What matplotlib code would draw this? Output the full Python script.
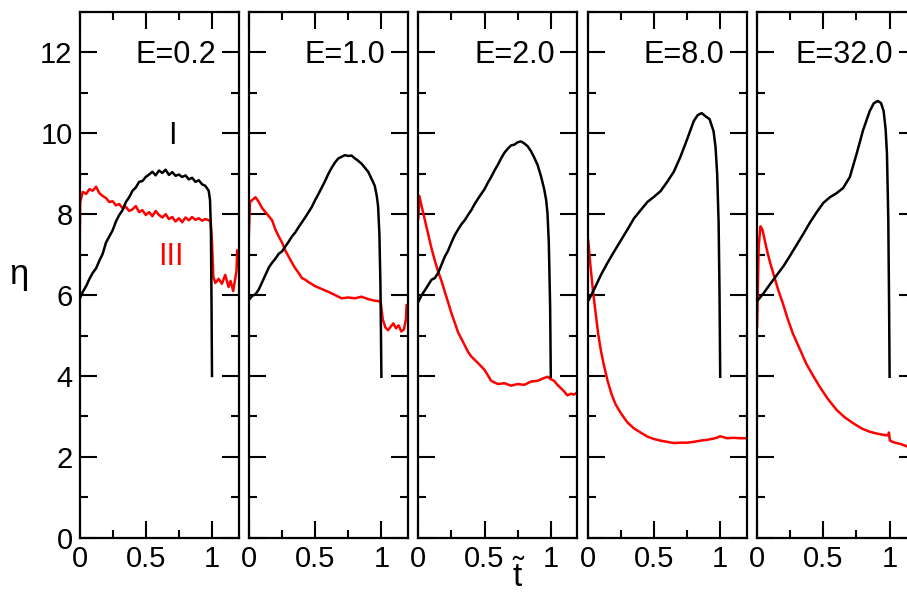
import matplotlib
matplotlib.use("Agg")
import matplotlib.pyplot as plt
from matplotlib.ticker import MultipleLocator

plt.rcParams['font.family'] = ['Liberation Sans', 'DejaVu Sans']
plt.rcParams['mathtext.fontset'] = 'custom'
plt.rcParams['mathtext.rm'] = 'Liberation Sans'

# ---------------- data ----------------
labels = ["E=0.2", "E=1.0", "E=2.0", "E=8.0", "E=32.0"]

# E=0.2
x_I_02 = [0, .025, .05, .075, .1, .125, .15, .175, .2, .225, .25, .275, .3, .325, .35, .375, .4, .425, .45, .475,
          .5, .525, .55, .575, .6, .625, .65, .675, .7, .725, .75, .775, .8, .825, .85, .875, .9, .925, .95, .975,
          .985, .992, .997, 1.0]
y_I_02 = [5.90, 6.08, 6.22, 6.40, 6.55, 6.66, 6.85, 7.02, 7.30, 7.45, 7.60, 7.82, 7.98, 8.10, 8.30, 8.42, 8.58, 8.66, 8.80, 8.82,
          8.92, 8.98, 9.05, 8.96, 9.08, 9.02, 9.10, 8.97, 9.04, 8.95, 8.98, 8.92, 8.96, 8.86, 8.90, 8.80, 8.84, 8.74, 8.70, 8.58,
          8.35, 7.6, 5.5, 4.0]
x_III_02 = [0, .005, .025, .05, .075, .1, .125, .15, .175, .2, .225, .25, .275, .3, .325, .35, .375, .4, .425, .45,
            .475, .5, .525, .55, .575, .6, .625, .65, .675, .7, .725, .75, .775, .8, .825, .85, .875, .9, .925, .95,
            .975, .99, 1.0, 1.01, 1.025, 1.05, 1.075, 1.1, 1.125, 1.14, 1.16, 1.175, 1.185, 1.19]
y_III_02 = [6.7, 8.3, 8.55, 8.50, 8.62, 8.58, 8.68, 8.52, 8.45, 8.40, 8.30, 8.32, 8.22, 8.25, 8.15, 8.18, 8.08, 8.12, 8.20, 8.05,
            8.10, 7.98, 8.05, 7.95, 8.08, 7.98, 7.92, 8.0, 7.88, 7.93, 7.82, 7.90, 7.80, 7.92, 7.85, 7.93, 7.86, 7.90, 7.84, 7.88,
            7.85, 7.82, 7.3, 6.45, 6.30, 6.40, 6.28, 6.50, 6.20, 6.35, 6.10, 6.40, 6.6, 7.1]

# E=1.0
x_I_10 = [0, .025, .05, .075, .1, .125, .15, .175, .2, .225, .25, .275, .3, .325, .35, .375, .4, .425, .45, .475,
          .5, .525, .55, .575, .6, .625, .65, .675, .7, .725, .75, .775, .8, .825, .85, .875, .9, .925, .95,
          .965, .975, .985, .993, 1.0]
y_I_10 = [5.88, 5.98, 6.02, 6.14, 6.32, 6.50, 6.68, 6.80, 6.90, 7.02, 7.08, 7.20, 7.32, 7.45, 7.55, 7.68, 7.80, 7.92, 8.05, 8.18,
          8.35, 8.50, 8.66, 8.82, 9.00, 9.15, 9.28, 9.38, 9.42, 9.46, 9.44, 9.45, 9.38, 9.32, 9.25, 9.15, 9.05, 8.88, 8.70,
          8.45, 8.20, 7.50, 6.2, 3.98]
x_III_10 = [0, .008, .025, .05, .075, .1, .125, .15, .175, .2, .225, .25, .275, .3, .325, .35, .375, .4, .425, .45,
            .5, .55, .6, .65, .7, .75, .8, .85, .9, .95, .98, .995, 1.01, 1.03, 1.05, 1.07, 1.09, 1.11, 1.13, 1.15,
            1.17, 1.185, 1.19]
y_III_10 = [7.52, 8.30, 8.35, 8.42, 8.30, 8.15, 8.05, 7.95, 7.85, 7.62, 7.45, 7.30, 7.10, 6.95, 6.80, 6.66, 6.55, 6.42, 6.38, 6.32,
            6.22, 6.15, 6.08, 6.00, 5.92, 5.94, 5.92, 5.96, 5.90, 5.86, 5.85, 5.82, 5.40, 5.20, 5.13, 5.22, 5.30, 5.18, 5.25, 5.10,
            5.15, 5.4, 5.75]

# E=2.0
x_I_20 = [0, .025, .05, .075, .1, .125, .15, .175, .2, .225, .25, .275, .3, .325, .35, .375, .4, .425, .45, .475,
          .5, .525, .55, .575, .6, .625, .65, .675, .7, .725, .75, .775, .8, .825, .85, .875, .9, .925, .95,
          .965, .975, .985, .995, 1.0]
y_I_20 = [5.83, 6.00, 6.12, 6.25, 6.38, 6.42, 6.55, 6.75, 6.95, 7.10, 7.30, 7.48, 7.62, 7.75, 7.85, 7.98, 8.10, 8.25, 8.38, 8.50,
          8.62, 8.78, 8.92, 9.08, 9.22, 9.38, 9.52, 9.62, 9.70, 9.72, 9.78, 9.80, 9.75, 9.68, 9.56, 9.40, 9.22, 8.95, 8.62,
          8.35, 8.02, 7.3, 5.7, 3.98]
x_III_20 = [0, .008, .025, .05, .075, .1, .125, .15, .175, .2, .225, .25, .275, .3, .325, .35, .375, .4, .45, .5,
            .55, .6, .65, .7, .75, .8, .85, .9, .95, .975, 1.0, 1.025, 1.05, 1.075, 1.1, 1.125, 1.15, 1.175, 1.19]
y_III_20 = [7.9, 8.45, 8.20, 7.85, 7.50, 7.15, 6.85, 6.58, 6.35, 6.08, 5.82, 5.55, 5.32, 5.08, 4.92, 4.76, 4.60, 4.48, 4.32, 4.15,
            3.88, 3.80, 3.82, 3.76, 3.80, 3.78, 3.86, 3.88, 3.95, 3.98, 3.92, 3.88, 3.78, 3.70, 3.62, 3.52, 3.56, 3.54, 3.57]

# E=8.0
x_I_80 = [0, .05, .1, .15, .2, .25, .3, .35, .4, .45, .5, .55, .6, .65, .7, .75, .8, .83, .86, .89,
          .92, .95, .965, .977, .988, .995, 1.0]
y_I_80 = [5.83, 6.15, 6.50, 6.80, 7.08, 7.35, 7.62, 7.90, 8.10, 8.30, 8.43, 8.57, 8.80, 9.05, 9.42, 9.85, 10.30, 10.45, 10.50, 10.42,
          10.35, 10.05, 9.65, 9.0, 7.8, 6.0, 3.98]
x_III_80 = [0, .004, .02, .04, .06, .08, .1, .12, .15, .18, .21, .25, .3, .35, .4, .45, .5, .55, .6, .65,
            .7, .75, .8, .85, .9, .95, .98, 1.0, 1.05, 1.1, 1.15, 1.19]
y_III_80 = [6.78, 7.36, 6.75, 6.10, 5.55, 5.02, 4.62, 4.30, 3.88, 3.55, 3.30, 3.08, 2.85, 2.70, 2.60, 2.50, 2.44, 2.40, 2.37, 2.34,
            2.35, 2.35, 2.37, 2.40, 2.42, 2.45, 2.48, 2.51, 2.46, 2.47, 2.46, 2.46]

# E=32.0
x_I_320 = [0, .05, .1, .15, .2, .25, .3, .35, .4, .45, .5, .55, .6, .65, .7, .75, .8, .85, .88, .91,
           .935, .955, .97, .98, .99, .996, 1.0]
y_I_320 = [5.85, 6.05, 6.28, 6.50, 6.72, 6.98, 7.25, 7.52, 7.80, 8.05, 8.28, 8.42, 8.52, 8.65, 8.92, 9.48, 10.08, 10.55, 10.74, 10.80,
           10.75, 10.55, 10.1, 9.5, 7.9, 5.8, 3.98]
x_III_320 = [0, .012, .025, .04, .06, .08, .1, .13, .16, .195, .23, .27, .32, .37, .42, .473, .53, .6, .66, .725,
             .79, .85, .91, .96, .99, .995, 1.002, 1.04, 1.08, 1.13, 1.19]
y_III_320 = [5.22, 7.2, 7.70, 7.62, 7.32, 7.03, 6.78, 6.45, 6.12, 5.79, 5.42, 5.05, 4.68, 4.31, 4.02, 3.73, 3.45, 3.16, 2.98, 2.83,
             2.70, 2.62, 2.57, 2.54, 2.53, 2.60, 2.40, 2.35, 2.32, 2.26, 2.20]

curves_I = [(x_I_02, y_I_02), (x_I_10, y_I_10), (x_I_20, y_I_20), (x_I_80, y_I_80), (x_I_320, y_I_320)]
curves_III = [(x_III_02, y_III_02), (x_III_10, y_III_10), (x_III_20, y_III_20), (x_III_80, y_III_80), (x_III_320, y_III_320)]

# ---------------- figure ----------------
W, H = 907, 596
fig = plt.figure(figsize=(W / 100, H / 100), dpi=100)

left0 = 79.5
step = 169.4
pw = 159.0
bottom = 58.3
top = 12.0

for k in range(5):
    ax = fig.add_axes([(left0 + step * k) / W, bottom / H, pw / W, (H - top - bottom) / H])
    xr, yr = curves_III[k]
    xb, yb = curves_I[k]
    ax.plot(xr, yr, color='#ff0000', lw=1.8, solid_joinstyle='round')
    ax.plot(xb, yb, color='black', lw=1.8, solid_joinstyle='round')
    ax.set_xlim(0, 1.2)
    ax.set_ylim(0, 13)
    ax.xaxis.set_major_locator(MultipleLocator(0.5))
    ax.xaxis.set_minor_locator(MultipleLocator(0.25))
    ax.yaxis.set_major_locator(MultipleLocator(2))
    ax.yaxis.set_minor_locator(MultipleLocator(1))
    ax.tick_params(which='both', direction='in', top=True, right=True, width=1.5,
                   labelsize=21, colors='black')
    ax.tick_params(which='major', length=12, pad=5)
    ax.tick_params(which='minor', length=6)
    ax.set_xticks([0, 0.5, 1])
    ax.set_xticklabels(['0', '0.5', '1'])
    if k > 0:
        ax.tick_params(axis='y', labelleft=False)
    for s in ax.spines.values():
        s.set_linewidth(1.6)
    ax.text(1.03, 11.73, labels[k], ha='right', va='baseline', fontsize=22)
    if k == 0:
        ax.text(0.70, 9.73, "I", ha='center', va='baseline', fontsize=22, color='black')
        ax.text(0.69, 6.74, "III", ha='center', va='baseline', fontsize=22, color='#ff0000')

fig.text(19 / W, 1 - 274 / H, "η", fontsize=25, ha='center', va='center')
fig.text(519 / W, 1 - 577 / H, r"$\tilde{\mathrm{t}}$", fontsize=24, ha='center', va='center')

fig.savefig("out.png", dpi=100)
